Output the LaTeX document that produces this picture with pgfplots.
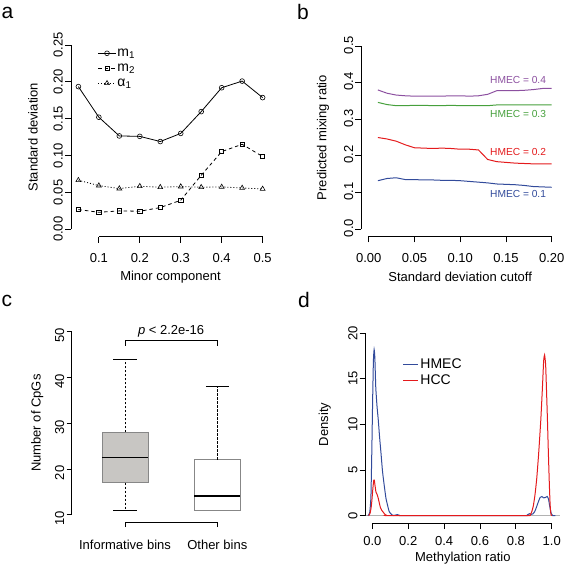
\documentclass[border=0pt]{standalone}
\usepackage{fontspec}
\setmainfont{Liberation Sans}
\usepackage{pgfplots}
\pgfplotsset{compat=1.18}
\definecolor{rpurple}{RGB}{140,80,160}
\definecolor{rgreen}{RGB}{70,160,60}
\definecolor{rred}{RGB}{228,26,28}
\definecolor{rblue}{RGB}{50,75,155}
\definecolor{boxgray}{RGB}{200,198,195}
\definecolor{bordergray}{RGB}{135,135,135}
\newcommand{\fs}{\fontsize{13}{15}\selectfont}
\newcommand{\fl}{\fontsize{14}{16}\selectfont}
\pgfplotsset{
 rstyle/.style={
  scale only axis,
  anchor=south west,
  axis line style={draw=none},
  tick align=outside,
  major tick length=6pt,
  xtick pos=left, ytick pos=left,
  tick style={black, line width=0.8pt},
  tick label style={font=\fs},
  label style={font=\fs},
  yticklabel style={rotate=90, anchor=south, inner sep=2pt},
  xticklabel style={anchor=north, inner sep=2pt},
  clip=false,
  legend style={draw=none, fill=none, font=\fl},
  legend cell align=left,
 }
}
\begin{document}
\begin{tikzpicture}
\path[use as bounding box] (0,0) rectangle (567pt,-566pt);
% ---------------- panel a
\node[anchor=base west, font=\fontsize{21}{24}\selectfont, inner sep=0pt] at (1.5pt,-18.5pt) {a};
\begin{axis}[rstyle, at={(71pt,-236.6pt)}, width=199pt, height=199pt,
 xmin=0.032, xmax=0.518, ymin=-0.01, ymax=0.26,
 xtick={0.1,0.2,0.3,0.4,0.5}, xticklabels={0.1,0.2,0.3,0.4,0.5},
 ytick={0,0.05,0.1,0.15,0.2,0.25}, yticklabels={0.00,0.05,0.10,0.15,0.20,0.25},
 xticklabel style={yshift=-9pt},
 xlabel={Minor component}, ylabel={Standard deviation},
 xlabel style={at={(axis description cs:0.5,-0.203)}, anchor=center},
 ylabel style={at={(axis description cs:-0.191,0.5)}, anchor=center},
 legend style={at={(axis description cs:0.12,0.97)}, anchor=north west,
   nodes={text height=9.5pt, text depth=2.5pt, inner sep=1.5pt}},
]
\draw[line width=0.8pt] (axis cs:0.032,0) -- (axis cs:0.032,0.25);
\draw[line width=0.8pt] (axis cs:0.1,-0.01) -- (axis cs:0.5,-0.01);
\addplot[black, line width=0.8pt, mark=o, mark size=2.4pt, mark options={solid, line width=0.6pt}] coordinates {
(0.05,0.1935) (0.10,0.152) (0.15,0.1266) (0.20,0.126) (0.25,0.119) (0.30,0.130) (0.35,0.1596) (0.40,0.192) (0.45,0.201) (0.50,0.1786)};
\addlegendentry{m\textsubscript{1}}
\addplot[black, line width=0.8pt, dash pattern=on 3.5pt off 3pt, mark=square, mark size=2.1pt, mark options={solid, line width=0.6pt}] coordinates {
(0.05,0.0267) (0.10,0.023) (0.15,0.0249) (0.20,0.0244) (0.25,0.0294) (0.30,0.0393) (0.35,0.0732) (0.40,0.1053) (0.45,0.1153) (0.50,0.0986)};
\addlegendentry{m\textsubscript{2}}
\addplot[black, line width=0.8pt, dash pattern=on 1pt off 2pt, mark=triangle, mark size=2.8pt, mark options={solid, line width=0.6pt}] coordinates {
(0.05,0.0665) (0.10,0.0592) (0.15,0.0552) (0.20,0.0583) (0.25,0.057) (0.30,0.0579) (0.35,0.057) (0.40,0.0574) (0.45,0.056) (0.50,0.0547)};
\addlegendentry{α\textsubscript{1}}
\end{axis}
% ---------------- panel b
\node[anchor=base west, font=\fontsize{21}{24}\selectfont, inner sep=0pt] at (297pt,-19pt) {b};
\begin{axis}[rstyle, at={(361.4pt,-236.3pt)}, width=197.6pt, height=197.6pt,
 xmin=-0.008, xmax=0.208, ymin=-0.02, ymax=0.52,
 xtick={0,0.05,0.1,0.15,0.2}, xticklabels={0.00,0.05,0.10,0.15,0.20},
 ytick={0,0.1,0.2,0.3,0.4,0.5}, yticklabels={0.0,0.1,0.2,0.3,0.4,0.5},
 xticklabel style={yshift=-9pt},
 yticklabel style={xshift=1pt},
 xlabel={Standard deviation cutoff}, ylabel={Predicted mixing ratio},
 xlabel style={at={(axis description cs:0.5,-0.206)}, anchor=center},
 ylabel style={at={(axis description cs:-0.194,0.5)}, anchor=center},
]
\draw[line width=0.8pt] (axis cs:-0.008,0) -- (axis cs:-0.008,0.5);
\draw[line width=0.8pt] (axis cs:0,-0.02) -- (axis cs:0.2,-0.02);
\addplot[rpurple, line width=1pt] coordinates {
(0.01,0.380) (0.02,0.371) (0.03,0.366) (0.04,0.364) (0.05,0.363) (0.06,0.363) (0.07,0.363) (0.08,0.363) (0.09,0.364) (0.10,0.364) (0.11,0.363) (0.12,0.364) (0.13,0.368) (0.14,0.378) (0.15,0.378) (0.16,0.378) (0.17,0.379) (0.18,0.381) (0.19,0.384) (0.20,0.384)};
\addplot[rgreen, line width=1pt] coordinates {
(0.01,0.346) (0.02,0.340) (0.03,0.337) (0.04,0.337) (0.05,0.338) (0.06,0.338) (0.07,0.337) (0.08,0.337) (0.09,0.338) (0.10,0.337) (0.11,0.337) (0.12,0.337) (0.13,0.337) (0.14,0.339) (0.15,0.339) (0.16,0.339) (0.17,0.339) (0.18,0.339) (0.19,0.339) (0.20,0.339)};
\addplot[rred, line width=1pt] coordinates {
(0.01,0.250) (0.02,0.246) (0.03,0.240) (0.04,0.230) (0.05,0.222) (0.06,0.221) (0.07,0.220) (0.08,0.221) (0.09,0.220) (0.10,0.218) (0.11,0.218) (0.12,0.216) (0.13,0.190) (0.14,0.184) (0.15,0.182) (0.16,0.180) (0.17,0.179) (0.18,0.178) (0.19,0.178) (0.20,0.178)};
\addplot[rblue, line width=1pt] coordinates {
(0.01,0.132) (0.02,0.138) (0.03,0.140) (0.04,0.135) (0.05,0.135) (0.06,0.134) (0.07,0.134) (0.08,0.133) (0.09,0.133) (0.10,0.132) (0.11,0.130) (0.12,0.128) (0.13,0.126) (0.14,0.123) (0.15,0.122) (0.16,0.121) (0.17,0.119) (0.18,0.116) (0.19,0.115) (0.20,0.114)};
\node[anchor=east, text=rpurple, font=\fontsize{10.2}{12}\selectfont, inner sep=0pt] at (axis cs:0.194,0.407) {HMEC = 0.4};
\node[anchor=east, text=rgreen, font=\fontsize{10.2}{12}\selectfont, inner sep=0pt] at (axis cs:0.194,0.3136) {HMEC = 0.3};
\node[anchor=east, text=rred, font=\fontsize{10.2}{12}\selectfont, inner sep=0pt] at (axis cs:0.194,0.2117) {HMEC = 0.2};
\node[anchor=east, text=rblue, font=\fontsize{10.2}{12}\selectfont, inner sep=0pt] at (axis cs:0.194,0.0962) {HMEC = 0.1};
\end{axis}
% ---------------- panel c
\node[anchor=base west, font=\fontsize{21}{24}\selectfont, inner sep=0pt] at (1.5pt,-306.5pt) {c};
\begin{axis}[rstyle, at={(71.5pt,-522pt)}, width=199.3pt, height=197.6pt,
 xmin=0.42, xmax=2.58, ymin=8.4, ymax=51.6,
 xtick={1,2}, xticklabels={Informative bins,Other bins},
 ytick={10,20,30,40,50}, yticklabels={10,20,30,40,50},
 xticklabel style={yshift=-10.5pt},
 yticklabel style={xshift=-4pt},
 major tick length=5pt,
 ylabel={Number of CpGs},
 ylabel style={at={(axis description cs:-0.172,0.5)}, anchor=center},
]
\draw[line width=0.8pt] (axis cs:0.42,10) -- (axis cs:0.42,50);
\draw[line width=0.8pt] (axis cs:1,8.4) -- (axis cs:2,8.4);
% box 1
\addplot[draw=bordergray, fill=boxgray, line width=0.7pt] coordinates {(0.75,17) (1.25,17) (1.25,28) (0.75,28)} -- cycle;
\addplot[black, line width=1.8pt] coordinates {(0.75,22.5) (1.25,22.5)};
\addplot[black, line width=0.8pt, dash pattern=on 2.5pt off 1.5pt] coordinates {(1,28) (1,44)};
\addplot[black, line width=0.8pt, dash pattern=on 2.5pt off 1.5pt] coordinates {(1,17) (1,11)};
\addplot[black, line width=0.8pt] coordinates {(0.875,44) (1.125,44)};
\addplot[black, line width=0.8pt] coordinates {(0.875,11) (1.125,11)};
% box 2
\addplot[draw=bordergray, fill=white, line width=0.7pt] coordinates {(1.75,11) (2.25,11) (2.25,22) (1.75,22)} -- cycle;
\addplot[black, line width=1.8pt] coordinates {(1.75,14) (2.25,14)};
\addplot[black, line width=0.8pt, dash pattern=on 2.5pt off 1.5pt] coordinates {(2,22) (2,38)};
\addplot[black, line width=0.8pt] coordinates {(1.875,38) (2.125,38)};
% p-value bracket
\draw[line width=0.8pt] (axis cs:1,46.9) -- (axis cs:1,48) -- (axis cs:2,48) -- (axis cs:2,46.9);
\node[font=\fs, anchor=base] at (axis cs:1.5,49.4) {\textit{p} < 2.2e-16};
\end{axis}
% ---------------- panel d
\node[anchor=base west, font=\fontsize{21}{24}\selectfont, inner sep=0pt] at (298pt,-307.5pt) {d};
\begin{axis}[rstyle, at={(365.7pt,-523pt)}, width=194.3pt, height=197.3pt,
 xmin=-0.037, xmax=1.046, ymin=-0.8, ymax=20.8,
 xtick={0,0.2,0.4,0.6,0.8,1}, xticklabels={0.0,0.2,0.4,0.6,0.8,1.0},
 ytick={0,5,10,15,20}, yticklabels={0,5,10,15,20},
 xticklabel style={yshift=-5pt},
 xlabel={Methylation ratio}, ylabel={Density},
 xlabel style={at={(axis description cs:0.5,-0.178)}, anchor=center},
 ylabel style={at={(axis description cs:-0.211,0.5)}, anchor=center},
 legend style={at={(axis description cs:0.175,0.855)}, anchor=north west,
   nodes={text height=10pt, text depth=3pt, inner sep=1.5pt}},
 legend image code/.code={\draw[#1, line width=1pt] (0pt,0pt) -- (15pt,0pt);},
]
\draw[line width=0.8pt] (axis cs:-0.037,0) -- (axis cs:-0.037,20);
\draw[line width=0.8pt] (axis cs:0,-0.8) -- (axis cs:1,-0.8);
\addplot[black!30, line width=0.8pt, forget plot] coordinates {(-0.037,0) (1.046,0)};
\addplot[rblue, line width=1pt, smooth, tension=0.3] coordinates {
(-0.025,0) (-0.015,0.3) (-0.008,2) (-0.003,7) (0.002,13) (0.006,17) (0.010,18.2) (0.014,17.3) (0.019,14.1) (0.026,12) (0.033,10.5) (0.040,8.7) (0.048,6.9) (0.057,4.8) (0.067,3.2) (0.076,1.9) (0.086,1.05) (0.093,0.5) (0.099,0.3) (0.11,0.08) (0.12,0.02) (0.13,0.08) (0.14,0.12) (0.15,0.05) (0.17,0) (0.5,0) (0.85,0) (0.865,0.1) (0.875,0.22) (0.885,0.15) (0.895,0.2) (0.905,0.45) (0.915,0.95) (0.925,1.5) (0.935,2.0) (0.945,2.1) (0.955,1.95) (0.965,2.0) (0.975,2.1) (0.982,1.8) (0.99,0.9) (0.997,0.25) (1.005,0.02) (1.02,0)};
\addlegendentry{HMEC}
\addplot[rred, line width=1pt, smooth, tension=0.3] coordinates {
(-0.02,0) (-0.012,0.3) (-0.006,1.0) (-0.002,1.8) (0.003,3.0) (0.008,3.9) (0.011,3.9) (0.015,3.3) (0.02,2.6) (0.027,2.3) (0.033,1.9) (0.04,1.3) (0.045,0.9) (0.052,0.6) (0.06,0.4) (0.07,0.15) (0.08,0.03) (0.09,0) (0.5,0) (0.86,0) (0.879,0.1) (0.888,0.4) (0.897,1.05) (0.906,2.2) (0.916,4.0) (0.927,6.8) (0.939,10.5) (0.948,14) (0.955,17) (0.96,17.6) (0.966,16.5) (0.972,13) (0.976,10.5) (0.981,7) (0.987,3.2) (0.991,1.2) (0.995,0.2) (1.0,0)};
\addlegendentry{HCC}
\end{axis}
\end{tikzpicture}
\end{document}
